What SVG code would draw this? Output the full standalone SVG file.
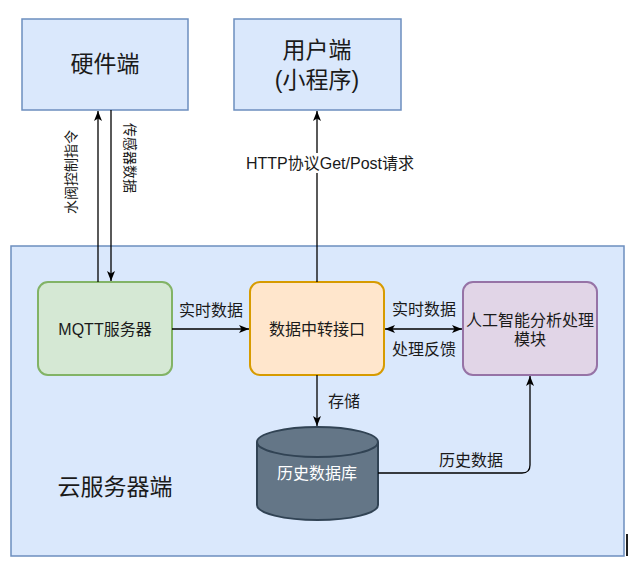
<svg xmlns="http://www.w3.org/2000/svg" width="628" height="574" viewBox="0 0 628 574">
<style>
text{font-family:"Liberation Sans","Noto Sans CJK SC",sans-serif;fill:#1a1a1a;text-anchor:middle;dominant-baseline:central}
.blue{fill:#dae8fc;stroke:#6c8ebf;stroke-width:1.5}
.edge{fill:none;stroke:#000;stroke-width:1.3}
.lbl{font-size:16px}
.big{font-size:23px}
</style>
<defs>
<marker id="arr" viewBox="0 0 10 8" refX="10" refY="4" markerWidth="10" markerHeight="8" markerUnits="userSpaceOnUse" orient="auto-start-reverse">
<path d="M0,0 L10,4 L0,8 L2.5,4 Z" fill="#000"/>
</marker>
</defs>
<rect width="628" height="574" fill="#fff"/>

<g id="cloud">
<rect class="blue" x="11" y="246" width="613" height="310"/>
<text class="big" x="115" y="487">云服务器端</text>
</g>

<g id="hardware">
<rect class="blue" x="22" y="19" width="166" height="91"/>
<text class="big" x="105" y="64">硬件端</text>
</g>

<g id="user">
<rect class="blue" x="234" y="19" width="167" height="91"/>
<text class="big" x="317" y="50">用户端</text>
<text class="big" x="317" y="80">(小程序)</text>
</g>

<g id="mqtt">
<rect x="38" y="282" width="134" height="93" rx="10" fill="#d5e8d4" stroke="#82b366" stroke-width="2"/>
<text class="lbl" x="105" y="329">MQTT服务器</text>
</g>

<g id="relay">
<rect x="250" y="282" width="134" height="93" rx="10" fill="#ffe6cc" stroke="#d79b00" stroke-width="2"/>
<text class="lbl" x="317" y="329">数据中转接口</text>
</g>

<g id="ai">
<rect x="463" y="282" width="134" height="93" rx="10" fill="#e1d5e7" stroke="#9673a6" stroke-width="2"/>
<text class="lbl" x="530" y="320">人工智能分析处理</text>
<text class="lbl" x="530" y="339">模块</text>
</g>

<g id="db">
<path d="M257,442 A60.5,15 0 0 1 378,442 L378,505 A60.5,15 0 0 1 257,505 Z" fill="#647687" stroke="#314354" stroke-width="2"/>
<path d="M257,442 A60.5,15 0 0 0 378,442" fill="none" stroke="#314354" stroke-width="2"/>
<text class="lbl" x="317" y="473" style="fill:#fff">历史数据库</text>
</g>

<g id="connectors">
<path class="edge" d="M98,282 L98,111" marker-end="url(#arr)"/>
<path class="edge" d="M111,110 L111,281" marker-end="url(#arr)"/>
<text x="71" y="172" font-size="14" transform="rotate(-90 71 172)">水阀控制指令</text>
<text x="130" y="158" font-size="14" transform="rotate(90 130 158)">传感器数据</text>

<path class="edge" d="M317,282 L317,111" marker-end="url(#arr)"/>
<rect x="246" y="153" width="169" height="20" fill="#fff"/>
<text class="lbl" x="330" y="163">HTTP协议Get/Post请求</text>

<path class="edge" d="M172,329 L249,329" marker-end="url(#arr)"/>
<text class="lbl" x="211" y="310">实时数据</text>

<path class="edge" d="M385,329 L462,329" marker-start="url(#arr)" marker-end="url(#arr)"/>
<text class="lbl" x="424" y="309">实时数据</text>
<text class="lbl" x="424" y="349">处理反馈</text>

<path class="edge" d="M317,375 L317,426" marker-end="url(#arr)"/>
<text class="lbl" x="344" y="401">存储</text>

<path class="edge" d="M378,473 L522,473 Q530,473 530,465 L530,376" marker-end="url(#arr)"/>
<text class="lbl" x="471" y="460">历史数据</text>
</g>

<line x1="627" y1="534" x2="627" y2="556" stroke="#222" stroke-width="2"/>
</svg>
